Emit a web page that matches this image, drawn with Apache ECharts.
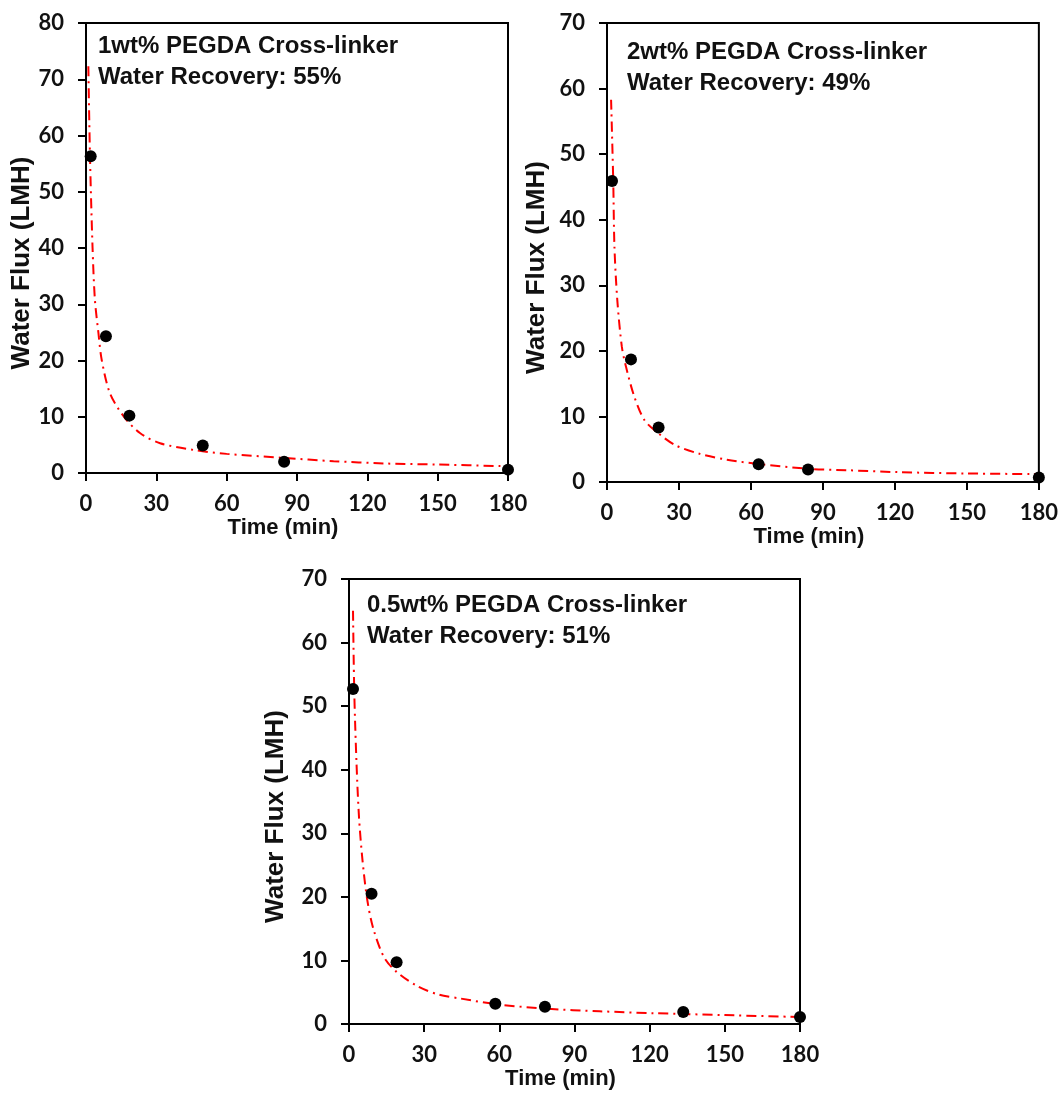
<!DOCTYPE html>
<html>
<head>
<meta charset="utf-8">
<script src="https://cdn.jsdelivr.net/npm/echarts@6/dist/echarts.min.js"></script>
<style>
html,body{margin:0;padding:0;background:#fff;}
#chart{width:1061px;height:1093px;}
</style>
</head>
<body>
<div id="chart"></div>
<script>
// ---- Data ----
var xTicks = [0, 30, 60, 90, 120, 150, 180];

// Panel 1: 1wt% PEGDA
var p1Points = [[2.0, 56.3], [8.5, 24.3], [18.5, 10.2], [49.8, 4.9], [84.5, 2.0], [180, 0.6]];
var p1Curve = [[1.0, 72.3], [1.7, 56.3], [2.8, 40.0], [3.8, 30.8], [5.3, 24.9], [6.7, 20.1], [10.2, 14.2],
  [16, 10.1], [23, 7.1], [31.6, 5.3], [45.8, 4.1], [60, 3.4], [84, 2.7], [105.6, 2.1], [127, 1.7], [150, 1.5], [180, 1.2]];
var p1Label = ["1wt% PEGDA Cross-linker", "Water Recovery: 55%"];

// Panel 2: 2wt% PEGDA
var p2Points = [[2.1, 45.9], [10.0, 18.7], [21.5, 8.3], [63.2, 2.7], [83.8, 1.9], [180, 0.7]];
var p2Curve = [[1.7, 58.3], [2.6, 45.9], [3.1, 35.9], [4.3, 27.7], [6.2, 20.6], [7.9, 17.6], [11.4, 13.0],
  [15.7, 9.4], [21.5, 7.4], [28.6, 5.6], [38.6, 4.3], [50, 3.4], [64.4, 2.7], [84.4, 2.0], [100, 1.8],
  [121.6, 1.5], [150, 1.3], [180, 1.2]];
var p2Label = ["2wt% PEGDA Cross-linker", "Water Recovery: 49%"];

// Panel 3: 0.5wt% PEGDA
var p3Points = [[1.6, 52.7], [9.0, 20.5], [19.0, 9.7], [58.4, 3.2], [78.2, 2.7], [133.4, 1.9], [180, 1.1]];
var p3Curve = [[1.6, 65.0], [2.1, 52.3], [3.0, 41.0], [4.0, 32.5], [5.4, 25.7], [7.3, 19.5], [9.7, 15.0],
  [14.0, 10.5], [19.0, 8.2], [27.5, 5.9], [36, 4.6], [44.6, 4.0], [58.9, 3.1], [78.8, 2.4], [100, 2.0],
  [121.6, 1.7], [150, 1.4], [180, 1.1]];
var p3Label = ["0.5wt% PEGDA Cross-linker", "Water Recovery: 51%"];

var yMax = [80, 70, 70];

// ---- Layout ----
var grids = [
  {left: 86, top: 23, width: 422, height: 450},
  {left: 607, top: 23, width: 433, height: 459},
  {left: 349, top: 579, width: 451, height: 445}
];
var yNameGap = [50, 57, 60];
var xNameGap = [44, 44, 44];

var tickFont = {fontFamily: 'Lato', fontWeight: 'bold', fontSize: 22, color: '#111'};

var xAxes = [], yAxes = [], series = [], graphics = [];
var allPoints = [p1Points, p2Points, p3Points];
var allCurves = [p1Curve, p2Curve, p3Curve];
var allLabels = [p1Label, p2Label, p3Label];

for (var i = 0; i < 3; i++) {
  grids[i].show = true;
  grids[i].borderColor = '#000';
  grids[i].borderWidth = 2;
  grids[i].backgroundColor = 'transparent';
  xAxes.push({
    type: 'value', gridIndex: i, min: 0, max: 180, interval: 30,
    name: 'Time (min)', nameLocation: 'middle', nameGap: xNameGap[i],
    nameTextStyle: {fontFamily: 'Liberation Sans', fontWeight: 'bold', fontSize: 22, color: '#111', padding: [0, 28, 0, 0]},
    axisLine: {show: true, onZero: false, lineStyle: {color: '#000', width: 2}},
    axisTick: {show: true, inside: false, length: 8, lineStyle: {color: '#000', width: 2}},
    axisLabel: Object.assign({margin: 20}, tickFont),
    splitLine: {show: false}
  });
  yAxes.push({
    type: 'value', gridIndex: i, min: 0, max: yMax[i], interval: 10,
    name: 'Water Flux (LMH)', nameLocation: 'middle', nameGap: yNameGap[i], nameRotate: 90,
    nameTextStyle: {fontFamily: 'Liberation Sans', fontWeight: 'bold', fontSize: 26, color: '#111', padding: [0, 30, 0, 0]},
    axisLine: {show: true, onZero: false, lineStyle: {color: '#000', width: 2}},
    axisTick: {show: true, inside: false, length: 8, lineStyle: {color: '#000', width: 2}},
    axisLabel: Object.assign({margin: 22}, tickFont),
    splitLine: {show: false}
  });
  series.push({
    type: 'line', xAxisIndex: i, yAxisIndex: i, data: allCurves[i],
    smooth: 0.3, symbol: 'none', silent: true, z: 2,
    lineStyle: {color: '#ff0000', width: 2, type: [10, 5, 2, 5]}
  });
  series.push({
    type: 'scatter', xAxisIndex: i, yAxisIndex: i, data: allPoints[i],
    symbol: 'circle', symbolSize: 12, z: 3,
    itemStyle: {color: '#000', opacity: 1}
  });
}

// annotation text positions
var annot = [
  {x: 98, y: 31},
  {x: 627, y: 37},
  {x: 367, y: 590}
];
for (var j = 0; j < 3; j++) {
  graphics.push({
    type: 'text', left: annot[j].x, top: annot[j].y,
    style: {
      text: allLabels[j].join('\n'),
      font: 'bold 24px "Liberation Sans", Arial, sans-serif',
      fill: '#111', lineHeight: 31
    }
  });
}

var chart = echarts.init(document.getElementById('chart'), null, {renderer: 'canvas'});
chart.setOption({
  animation: false,
  backgroundColor: '#fff',
  grid: grids,
  xAxis: xAxes,
  yAxis: yAxes,
  series: series,
  graphic: graphics
});
</script>
</body>
</html>
